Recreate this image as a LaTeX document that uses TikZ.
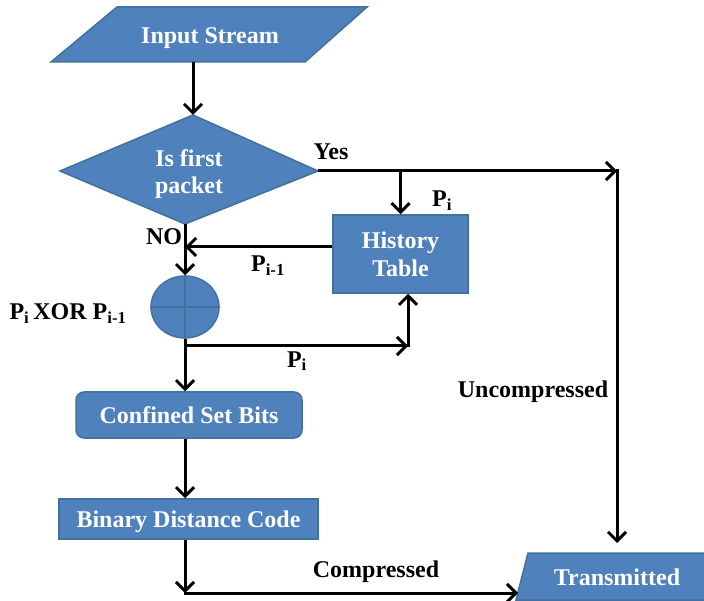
\documentclass[tikz,border=0pt]{standalone}
\usepackage{fontspec}
\setmainfont{Liberation Serif}
\usetikzlibrary{arrows.meta,shapes.geometric}
\definecolor{boxfill}{HTML}{4F81BD}
\definecolor{boxline}{HTML}{41719C}
\begin{document}
\begin{tikzpicture}[x=1pt,y=-1pt,
  shp/.style={fill=boxfill,draw=boxline,line width=1.5pt},
  wt/.style={text=white,font=\fontsize{24}{27}\selectfont\bfseries,inner sep=0pt},
  lbl/.style={text=black,font=\fontsize{24}{27}\selectfont\bfseries,inner sep=0pt,anchor=base},
  arr/.style={line width=3pt,-{Straight Barb[length=9pt,width=18pt]}}]
\clip (0,0) rectangle (704,601);
% Input stream
\draw[shp] (51,62) -- (117,7) -- (367,7) -- (305,62) -- cycle;
\node[wt,anchor=base] (in) at (210,44) {Input Stream};
\coordinate (inS) at (193,62);
% decision
\draw[shp] (193,115) -- (318,171) -- (185,224) -- (60,171) -- cycle;
\coordinate (dT) at (193,115);
\coordinate (dR) at (318,171);
\coordinate (dB) at (185,224);
\node[wt,align=center] (dec) at (189,174) {Is first\\packet};
% history table
\node[shp,wt,rectangle,minimum width=135pt,minimum height=78pt,align=center,
  font=\fontsize{24}{28}\selectfont\bfseries] (hist) at (400.5,254) {History\\Table};
% xor
\node[shp,ellipse,minimum width=68pt,minimum height=62pt,inner sep=0pt] (xor) at (185,307) {};
\draw[boxline,line width=1.5pt] (xor.north) -- (xor.south) (xor.west) -- (xor.east);
% confined
\node[shp,wt,rectangle,rounded corners=8pt,minimum width=226pt,minimum height=46pt,
  text height=16.4pt,text depth=0pt] (conf) at (189,415) {Confined Set Bits};
% binary
\node[shp,wt,rectangle,minimum width=259pt,minimum height=40pt,
  text height=16.4pt,text depth=0pt] (bin) at (188.5,519) {Binary Distance Code};
% transmitted
\draw[shp] (528,553) -- (720,553) -- (720,600) -- (516,600) -- cycle;
\node[wt,anchor=base] (tr) at (617,585) {Transmitted};
\coordinate (trT) at (617,553);
\coordinate (trL) at (518,593);
% connectors
\draw[arr] (inS) -- (dT);
\coordinate (yesC) at (617,171);
\draw[arr] (dR) -- (yesC);
\draw[arr,line cap=rect] (yesC) -- ([yshift=10pt]trT);
\draw[arr] (hist.north |- dR) -- (hist.north);
\coordinate (pim) at (185,247);
\draw[arr] ([yshift=7pt]hist.west) -- (pim);
\draw[arr] (dB) -- (xor.north);
\draw[arr] (xor.south) -- (xor.south |- conf.north);
\coordinate (br) at (185,346);
\coordinate (up) at (408,346);
\draw[arr] (br) -- (up);
\draw[arr,line cap=rect] (up) -- (up |- hist.south);
\draw[arr] (xor |- conf.south) -- (xor |- bin.north);
\coordinate (cc) at (185,593);
\draw[arr] (xor |- bin.south) -- (cc);
\draw[arr,line cap=rect] (cc) -- (trL);
% labels
\node[lbl] (yes) at (331,160) {Yes};
\node[lbl] (pi1) at (442,207) {P\textsubscript{i}};
\node[lbl] (no) at (164,245) {NO};
\node[lbl] (pim1) at (268,272) {P\textsubscript{i-1}};
\node[lbl] (xorl) at (68,320) {P\textsubscript{i}\,XOR P\textsubscript{i-1}};
\node[lbl] (pi2) at (297,367) {P\textsubscript{i}};
\node[lbl] (unc) at (533,397) {Uncompressed};
\node[lbl] (cmp) at (376,577) {Compressed};
\end{tikzpicture}
\end{document}
